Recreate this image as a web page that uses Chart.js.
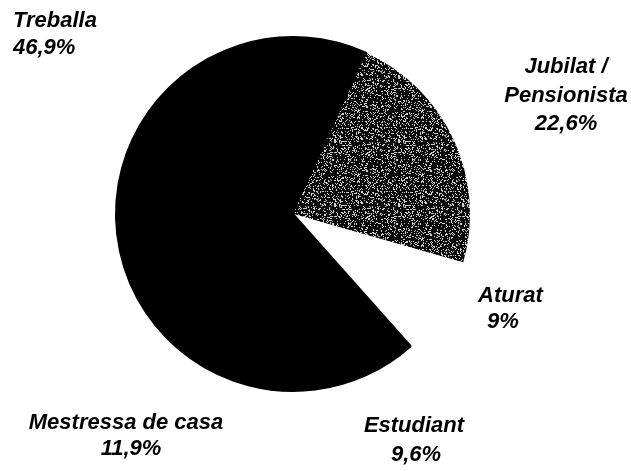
<!DOCTYPE html>
<html>
<head>
<meta charset="utf-8">
<script src="https://cdn.jsdelivr.net/npm/chart.js@4"></script>
<style>
  html, body { margin: 0; padding: 0; background: #fff; }
  #wrap { width: 631px; height: 471px; }
</style>
</head>
<body>
<div id="wrap"><canvas id="pie"></canvas></div>
<script>
// data
let categories = ['Treballa', ['Jubilat /', 'Pensionista'], 'Aturat', 'Estudiant', 'Mestressa de casa'];
let percentages = [46.9, 22.6, 9, 9.6, 11.9];

// label placement (x, first baseline, align, line height, x shift of the value line)
let labelPlaces = [
    [13, 27, 'left', 27, 0],
    [566, 73, 'center', 28.5, 0],
    [478, 302, 'left', 26, 9],
    [414, 432, 'center', 29, 2],
    [126, 429, 'center', 26, 5]
];

// black with white speckles, like the scanned grey slice (fixed hash, no randomness)
function speckle() {
    let size = 64;
    let c = document.createElement('canvas');
    c.width = size;
    c.height = size;
    let g = c.getContext('2d');
    g.fillStyle = '#0a0a0a';
    g.fillRect(0, 0, size, size);
    g.fillStyle = '#d0d0d0';
    for (let y = 0; y < size; y++) {
        for (let x = 0; x < size; x++) {
            let h = Math.imul(x, 374761393) + Math.imul(y, 668265263);
            h = Math.imul(h ^ (h >>> 13), 1274126177);
            h = (h ^ (h >>> 16)) >>> 0;
            if (h % 100 < 22) g.fillRect(x, y, 1, 1);
        }
    }
    return g.createPattern(c, 'repeat');
}

let sliceColors = ['#000000', speckle(), '#ffffff', '#000000', '#000000'];
let sliceBorders = ['#000000', '#0a0a0a', '#ffffff', '#000000', '#000000'];
let sliceBorderWidths = [2, 0, 0, 2, 2];

// writes the category and percentage next to each slice
let outsideLabels = {
    id: 'outsideLabels',
    afterDraw(chart) {
        let ctx = chart.ctx;
        ctx.save();
        ctx.fillStyle = '#000';
        ctx.font = 'italic bold 22px "Liberation Sans", Arial, sans-serif';
        ctx.textBaseline = 'alphabetic';
        categories.forEach((cat, i) => {
            let [x, y, align, lh, dx] = labelPlaces[i];
            let lines = Array.isArray(cat) ? cat : [cat];
            ctx.textAlign = align;
            lines.forEach((line, j) => ctx.fillText(line, x, y + j * lh));
            let value = String(percentages[i]).replace('.', ',') + '%';
            ctx.fillText(value, x + dx, y + lines.length * lh);
        });
        ctx.restore();
    }
};

let pieChart = new Chart(document.querySelector('#pie').getContext('2d'), {
    type: 'pie',
    data: {
        labels: categories,
        datasets: [{
            data: percentages,
            backgroundColor: sliceColors,
            borderColor: sliceBorders,
            borderWidth: sliceBorderWidths,
        }]
    },
    options: {
        responsive: true,
        maintainAspectRatio: false,
        animation: false,
        rotation: -144.3,
        layout: {
            padding: { left: 115, right: 160, top: 36, bottom: 79 }
        },
        plugins: {
            legend: { display: false },
            tooltip: { enabled: false },
        }
    },
    plugins: [outsideLabels]
});
</script>
</body>
</html>
